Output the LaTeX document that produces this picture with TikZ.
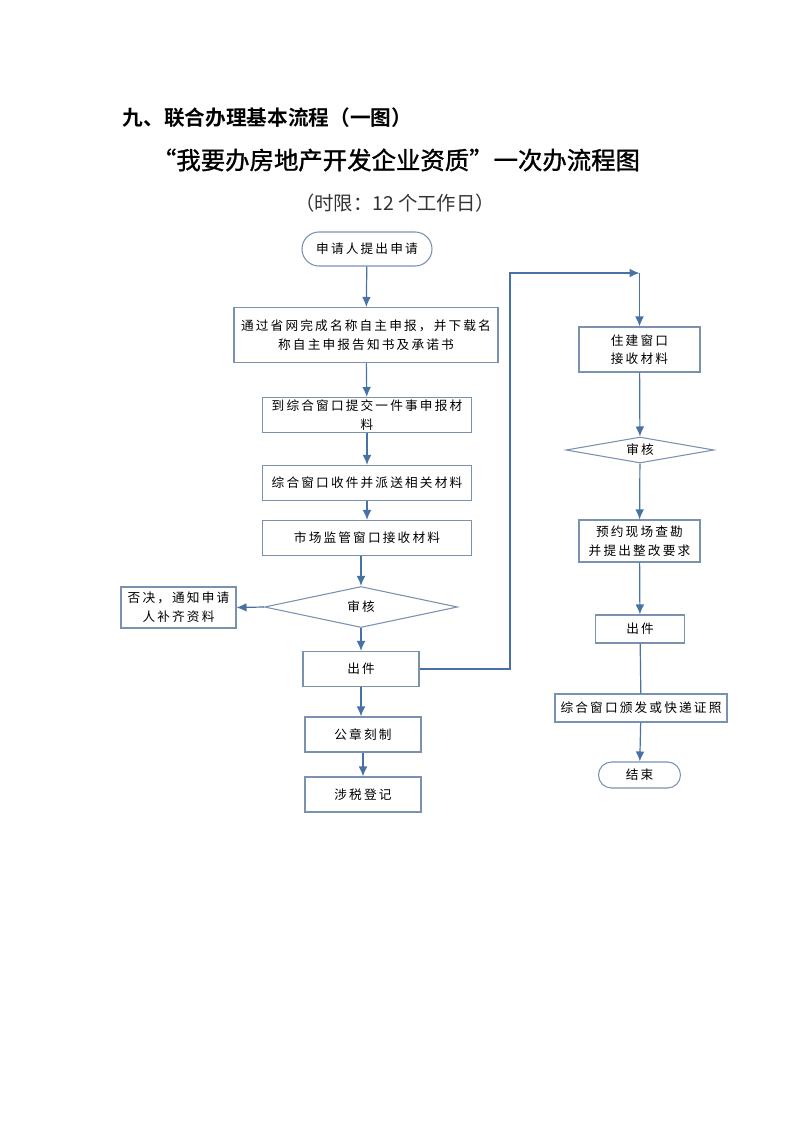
\documentclass[tikz,border=0pt]{standalone}
\usepackage{fontspec}
\setmainfont{Noto Sans CJK SC}[BoldFont={Noto Sans CJK SC Bold}]
\newfontfamily\boxfont{Noto Sans CJK SC}[LetterSpace=17]
\newfontfamily\subfont{Noto Sans CJK SC}[FakeBold=1.2]
\usetikzlibrary{arrows.meta,shapes.geometric}

\definecolor{boxline}{RGB}{122,146,176}
\definecolor{flowline}{RGB}{72,114,166}

\tikzset{
  stepbox/.style={draw=boxline, thick, fill=white, align=center, inner sep=0pt,
    font=\boxfont\fontsize{9.5pt}{14pt}\selectfont},
  endbox/.style={stepbox, rounded corners=#1},
  checkbox/.style={draw=boxline, thick, diamond, aspect=5, inner sep=0pt,
    font=\boxfont\fontsize{9.5pt}{14pt}\selectfont},
  flow/.style={draw=flowline, line width=0.9pt}
}

\begin{document}
\begin{tikzpicture}[x=0.75pt,y=-0.75pt,>={Latex[length=7.5pt,width=6.5pt]}]
      \useasboundingbox (0,0) rectangle (793,1122);

      %% titles
      \node[anchor=west, font=\bfseries\fontsize{15.5pt}{18pt}\selectfont]
        (title) at (118,118) {九、联合办理基本流程（一图）};
      \node[font=\subfont\fontsize{18.3pt}{22pt}\selectfont]
        (subtitle) at (396,160) {“我要办房地产开发企业资质”一次办流程图};
      \node[font=\fontsize{14.5pt}{17pt}\selectfont, text=black!80]
        (limit) at (395,203) {（时限：12 个工作日）};

      %% left column
      \node[endbox=12.75pt, minimum width=97.5pt, minimum height=25.5pt]
        (apply) at (367,249) {申请人提出申请};
      \node[stepbox, minimum width=198pt, minimum height=41.25pt]
        (online) at (366,335) {通过省网完成名称自主申报，并下载名\\称自主申报告知书及承诺书};
      \node[stepbox, minimum width=156.75pt, minimum height=26.25pt]
        (submit) at (367,415) {到综合窗口提交一件事申报材\\料};
      \node[stepbox, minimum width=156.75pt, minimum height=26.25pt]
        (receive) at (367,483) {综合窗口收件并派送相关材料};
      \node[stepbox, minimum width=156.75pt, minimum height=26.25pt]
        (market) at (367,538) {市场监管窗口接收材料};
      \node[checkbox, minimum width=144.75pt, minimum height=30.75pt]
        (check1) at (361,607) {审核};
      \node[stepbox, minimum width=86.25pt, minimum height=30.75pt]
        (reject) at (178.5,607.5) {否决，通知申请\\人补齐资料};
      \node[stepbox, minimum width=87pt, minimum height=26.25pt]
        (issue1) at (361,669) {出件};
      \node[stepbox, minimum width=87pt, minimum height=26.25pt]
        (seal) at (363,734.5) {公章刻制};
      \node[stepbox, minimum width=87pt, minimum height=26.25pt]
        (tax) at (363,794.5) {涉税登记};

      \path[flow,->] (apply) -- (online);
      \path[flow,->] (online) -- (submit);
      \path[flow,->] (submit) -- (receive);
      \path[flow,->] (receive) -- (market);
      \path[flow,->] (check1.north |- market.south) -- (check1.north);
      \path[flow,->] (check1.west) -- (reject.east);
      \path[flow,->] (check1) -- (issue1);
      \path[flow,->] (issue1.south) -- (issue1.south |- seal.north);
      \path[flow,->] (seal) -- (tax);

      %% right column
      \coordinate (bend) at (510,273);
      \coordinate (turn) at (639.5,273);
      \node[stepbox, minimum width=90.75pt, minimum height=33.75pt]
        (housing) at (639.5,349.5) {住建窗口\\接收材料};
      \node[checkbox, minimum width=111pt, minimum height=19.5pt]
        (check2) at (640,450) {审核};
      \node[stepbox, minimum width=90.75pt, minimum height=31.5pt]
        (inspect) at (639.5,541) {预约现场查勘\\并提出整改要求};
      \node[stepbox, minimum width=66.75pt, minimum height=21pt]
        (issue2) at (640,629) {出件};
      \node[stepbox, minimum width=129pt, minimum height=21pt]
        (deliver) at (641,708) {综合窗口颁发或快递证照};
      \node[endbox=9.75pt, minimum width=61.5pt, minimum height=19.5pt]
        (finish) at (639.5,775) {结束};

      \path[flow,->] (issue1.east) -| (bend) -- (turn);
      \path[flow,->] (turn) -- (housing.north);
      \path[flow,->] (housing) -- (check2);
      \path[flow,->] (check2) -- (inspect);
      \path[flow,->] (inspect) -- (issue2);
      \path[flow] (issue2) -- (deliver);
      \path[flow,->] (deliver) -- (finish);
\end{tikzpicture}
\end{document}
